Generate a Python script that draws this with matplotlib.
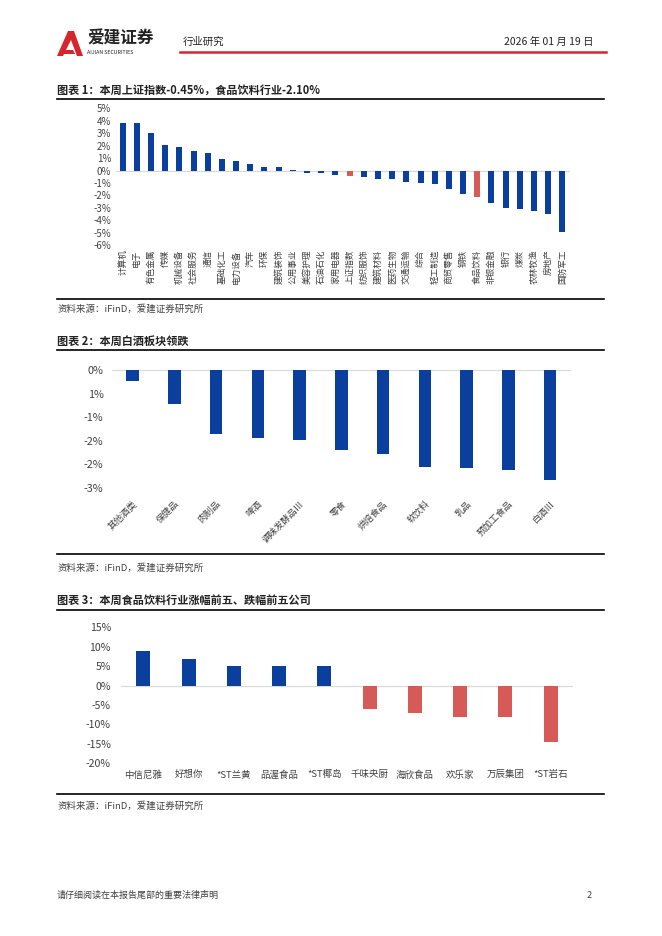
import matplotlib
matplotlib.use("Agg")
import matplotlib.pyplot as plt
from matplotlib.patches import Polygon
from matplotlib.lines import Line2D

plt.rcParams["font.family"] = ["Noto Sans CJK SC", "DejaVu Sans"]
plt.rcParams["axes.unicode_minus"] = False

# ---------- data ----------
c1_names = ["计算机", "电子", "有色金属", "传媒", "机械设备", "社会服务", "通信", "基础化工",
            "电力设备", "汽车", "环保", "建筑装饰", "公用事业", "美容护理", "石油石化", "家用电器",
            "上证指数", "纺织服饰", "建筑材料", "医药生物", "交通运输", "综合", "轻工制造",
            "商贸零售", "钢铁", "食品饮料", "非银金融", "银行", "煤炭", "农林牧渔", "房地产", "国防军工"]
c1_values = [3.85, 3.80, 3.05, 2.06, 1.93, 1.56, 1.45, 0.91, 0.80, 0.51, 0.30, 0.29, 0.05,
             -0.16, -0.22, -0.32, -0.45, -0.54, -0.67, -0.67, -0.91, -1.02, -1.07, -1.45,
             -1.87, -2.10, -2.62, -3.03, -3.10, -3.24, -3.51, -4.90]
c1_highlight = ["上证指数", "食品饮料"]

c2_names = ["其他酒类", "保健品", "肉制品", "啤酒", "调味发酵品Ⅲ", "零食", "烘焙食品",
            "软饮料", "乳品", "预加工食品", "白酒Ⅲ"]
c2_values = [-0.23, -0.72, -1.36, -1.44, -1.48, -1.69, -1.77, -2.05, -2.08, -2.12, -2.34]
c2_ticks = [0, -0.5, -1.0, -1.5, -2.0, -2.5]
c2_ticklabels = ["0%", "1%", "-1%", "-2%", "-2%", "-3%"]

c3_names = ["中信尼雅", "好想你", "*ST兰黄", "品渥食品", "*ST椰岛", "千味央厨", "海欣食品",
            "欢乐家", "万辰集团", "*ST岩石"]
c3_values = [8.8, 6.8, 5.1, 5.1, 5.0, -6.1, -7.1, -8.0, -8.2, -14.4]

BLUE = "#0B3F9E"
RED = "#D65A58"
GRID = "#D9D9D9"
TICK = "#404040"

W, H = 662, 936
fig = plt.figure(figsize=(W / 100, H / 100), dpi=100)


def rect(x0, y0, x1, y1):
    return [x0 / W, 1 - y1 / H, (x1 - x0) / W, (y1 - y0) / H]


def fy(y):
    return 1 - y / H


def fx(x):
    return x / W


def hline(y, x0=57, x1=604, color="black", lw=1.2):
    fig.add_artist(Line2D([fx(x0), fx(x1)], [fy(y), fy(y)], color=color, lw=lw))


def style_axes(ax):
    for s in ax.spines.values():
        s.set_visible(False)
    ax.tick_params(axis="both", length=0, colors=TICK)
    ax.axhline(0, color=GRID, lw=0.8, zorder=1)


# ---------- header ----------
logo = Polygon([(fx(57), fy(56)), (fx(68), fy(31)), (fx(74), fy(31)), (fx(83), fy(56)),
                (fx(77), fy(56)), (fx(71), fy(40)), (fx(66), fy(50)), (fx(73), fy(50)),
                (fx(75), fy(54)), (fx(64), fy(54)), (fx(63), fy(56))],
               closed=True, facecolor="#D7262B", edgecolor="none", transform=fig.transFigure)
fig.add_artist(logo)
fig.text(fx(87), fy(39), "爱建证券", fontsize=12, fontweight="bold", color="#222222",
         va="center", ha="left")
fig.text(fx(87), fy(52.5), "AIJIAN SECURITIES", fontsize=3.8, color="#222222",
         va="center", ha="left")
fig.text(fx(183), fy(42), "行业研究", fontsize=7.5, color="#222222", va="center", ha="left")
fig.text(fx(593), fy(42), "2026 年 01 月 19 日", fontsize=7.5, color="#222222",
         va="center", ha="right")
hline(52, 180, 606, color="#D7262B", lw=1.8)

# ---------- chart 1 ----------
fig.text(fx(57), fy(90), "图表 1：本周上证指数-0.45%，食品饮料行业-2.10%", fontsize=8,
         fontweight="bold", color="#222222", va="center", ha="left")
hline(99)

ax1 = fig.add_axes(rect(115.5, 108.3, 569.5, 245.3))
x1 = range(len(c1_names))
colors1 = [RED if n in c1_highlight else BLUE for n in c1_names]
ax1.bar(x1, c1_values, width=0.42, color=colors1, zorder=2)
ax1.set_xlim(-0.5, len(c1_names) - 0.5)
ax1.set_ylim(-6, 5)
ax1.set_yticks(range(-6, 6))
ax1.set_yticklabels([f"{v}%" for v in range(-6, 6)], fontsize=7)
ax1.set_xticks(list(x1))
ax1.set_xticklabels(c1_names, rotation=90, fontsize=6.2, va="top", ha="center")
ax1.tick_params(axis="y", pad=3)
ax1.tick_params(axis="x", pad=3)
style_axes(ax1)

hline(299)
fig.text(fx(57), fy(309), "资料来源：iFinD，爱建证券研究所", fontsize=6.8, color="#404040",
         va="center", ha="left")

# ---------- chart 2 ----------
fig.text(fx(57), fy(341), "图表 2：本周白酒板块领跌", fontsize=8, fontweight="bold",
         color="#222222", va="center", ha="left")
hline(350)

ax2 = fig.add_axes(rect(111.8, 370, 571, 488))
x2 = range(len(c2_names))
ax2.bar(x2, c2_values, width=0.3, color=BLUE, zorder=2)
ax2.set_xlim(-0.5, len(c2_names) - 0.5)
ax2.set_ylim(-2.5, 0)
ax2.set_yticks(c2_ticks)
ax2.set_yticklabels(c2_ticklabels, fontsize=7.8)
ax2.set_xticks(list(x2))
ax2.set_xticklabels(c2_names, rotation=45, fontsize=6.6, ha="right", va="top",
                    rotation_mode="anchor")
ax2.tick_params(axis="y", pad=6)
ax2.tick_params(axis="x", pad=8)
style_axes(ax2)

hline(554)
fig.text(fx(57), fy(568), "资料来源：iFinD，爱建证券研究所", fontsize=6.8, color="#404040",
         va="center", ha="left")

# ---------- chart 3 ----------
fig.text(fx(57), fy(600), "图表 3：本周食品饮料行业涨幅前五、跌幅前五公司", fontsize=8,
         fontweight="bold", color="#222222", va="center", ha="left")
hline(610)

ax3 = fig.add_axes(rect(120.7, 627.3, 573.3, 763.3))
x3 = range(len(c3_names))
colors3 = [BLUE if v >= 0 else RED for v in c3_values]
ax3.bar(x3, c3_values, width=0.31, color=colors3, zorder=2)
ax3.set_xlim(-0.5, len(c3_names) - 0.5)
ax3.set_ylim(-20, 15)
ax3.set_yticks(range(-20, 16, 5))
ax3.set_yticklabels([f"{v}%" for v in range(-20, 16, 5)], fontsize=7.6)
ax3.set_xticks(list(x3))
ax3.set_xticklabels(c3_names, fontsize=6.8)
ax3.tick_params(axis="y", pad=7)
ax3.tick_params(axis="x", pad=5)
style_axes(ax3)

hline(794)
fig.text(fx(57), fy(806), "资料来源：iFinD，爱建证券研究所", fontsize=6.8, color="#404040",
         va="center", ha="left")

# ---------- footer ----------
fig.text(fx(57), fy(895), "请仔细阅读在本报告尾部的重要法律声明", fontsize=6.5, color="#404040",
         va="center", ha="left")
fig.text(fx(592), fy(895), "2", fontsize=6.5, color="#404040", va="center", ha="right")

fig.savefig("out.png", dpi=100)
